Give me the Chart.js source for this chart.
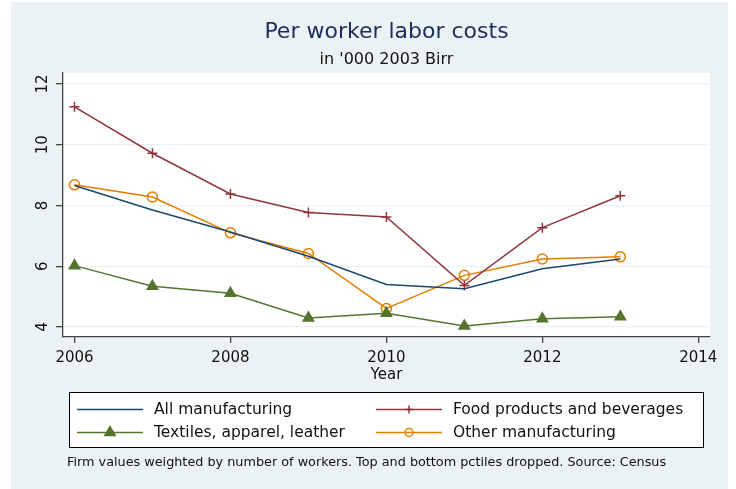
<!DOCTYPE html>
<html>
<head>
<meta charset="utf-8">
<script src="https://cdn.jsdelivr.net/npm/chart.js@4.4.1/dist/chart.umd.min.js"></script>
<style>
  html, body { margin: 0; padding: 0; background: #ffffff; }
  #wrap { width: 736px; height: 489px; }
</style>
</head>
<body>
<div id="wrap"><canvas id="laborChart" width="736" height="489"></canvas></div>
<script>
// values, '000 2003 Birr
const years = [2006, 2007, 2008, 2009, 2010, 2011, 2012, 2013];
const allManufacturing = [8.66, 7.85, 7.13, 6.33, 5.40, 5.26, 5.92, 6.24];
const foodBeverages = [11.25, 9.72, 8.38, 7.77, 7.62, 5.37, 7.27, 8.32];
const textiles = [6.02, 5.34, 5.11, 4.30, 4.45, 4.03, 4.27, 4.34];
const otherManufacturing = [8.68, 8.28, 7.10, 6.42, 4.61, 5.70, 6.24, 6.31];

const xTicks = [2006, 2008, 2010, 2012, 2014];
const yTicks = [4, 6, 8, 10, 12];

const FONT = "'DejaVu Sans', sans-serif";
const BG = '#eaf2f3';

function pts(vals) {
    return years.map((yr, i) => ({ x: yr, y: vals[i] }));
}

const seriesStyle = [
    { label: 'All manufacturing', data: pts(allManufacturing), color: '#1a476f', pointStyle: 'circle', radius: 0, fill: false },
    { label: 'Food products and beverages', data: pts(foodBeverages), color: '#90353b', pointStyle: 'cross', radius: 5, fill: false },
    { label: 'Textiles, apparel, leather', data: pts(textiles), color: '#55752f', pointStyle: 'triangle', radius: 6, fill: true },
    { label: 'Other manufacturing', data: pts(otherManufacturing), color: '#e37e00', pointStyle: 'circle', radius: 5, fill: false }
];

// Stata-ish frame: background, title, rotated y labels, boxed legend, note
const stataFrame = {
    id: 'stataFrame',
    beforeDraw(chart) {
        const c = chart.ctx;
        const a = chart.chartArea;
        c.save();
        c.fillStyle = BG;
        c.fillRect(11, 2, 717, 487);
        c.fillStyle = '#ffffff';
        c.fillRect(a.left, a.top, a.right - a.left, a.bottom - a.top);
        c.restore();
    },
    afterDraw(chart) {
        const c = chart.ctx;
        const a = chart.chartArea;
        const mid = (a.left + a.right) / 2;
        c.save();
        c.textAlign = 'center';
        c.textBaseline = 'middle';

        c.fillStyle = '#1e2e5c';
        c.font = '22px ' + FONT;
        c.fillText('Per worker labor costs', mid, 32);
        c.fillStyle = '#111111';
        c.font = '16px ' + FONT;
        c.fillText("in '000 2003 Birr", mid, 60);

        // y tick labels, vertical like Stata
        const ys = chart.scales.y;
        c.font = '15px ' + FONT;
        ys.ticks.forEach(t => {
            const py = ys.getPixelForValue(t.value);
            c.save();
            c.translate(43, py);
            c.rotate(-Math.PI / 2);
            c.fillText(String(t.value), 0, 0);
            c.restore();
        });

        c.font = '15px ' + FONT;
        c.fillText('Year', mid, 375);

        // legend box
        const bx = 69.5, by = 392.5, bw = 634, bh = 55;
        c.fillStyle = '#ffffff';
        c.fillRect(bx, by, bw, bh);
        c.strokeStyle = '#000000';
        c.lineWidth = 1;
        c.strokeRect(bx, by, bw, bh);

        const cols = [77, 376];
        const rows = [409.5, 432.5];
        c.textAlign = 'left';
        c.font = '15.5px ' + FONT;
        seriesStyle.forEach((s, i) => {
            const x0 = cols[i % 2], y0 = rows[Math.floor(i / 2)];
            c.strokeStyle = s.color;
            c.lineWidth = 1.5;
            c.beginPath();
            c.moveTo(x0, y0);
            c.lineTo(x0 + 66, y0);
            c.stroke();
            if (s.radius > 0) {
                c.fillStyle = s.fill ? s.color : 'rgba(0,0,0,0)';
                Chart.helpers.drawPoint(c, {
                    pointStyle: s.pointStyle,
                    radius: s.pointStyle === 'triangle' ? 6 : 4,
                    borderWidth: 1.5
                }, x0 + 33, y0);
            }
            c.fillStyle = '#111111';
            c.fillText(s.label, x0 + 77, y0);
        });

        c.font = '12.8px ' + FONT;
        c.fillStyle = '#111111';
        c.fillText('Firm values weighted by number of workers. Top and bottom pctiles dropped. Source: Census', 67, 463);
        c.restore();
    }
};

const chart = new Chart(document.getElementById('laborChart'), {
    type: 'line',
    data: {
        datasets: seriesStyle.map(s => ({
            label: s.label,
            data: s.data,
            borderColor: s.color,
            backgroundColor: s.fill ? s.color : 'rgba(0,0,0,0)',
            borderWidth: 1.5,
            pointStyle: s.pointStyle,
            pointRadius: s.radius,
            pointBorderColor: s.color,
            pointBorderWidth: 1.5,
            pointBackgroundColor: s.fill ? s.color : 'rgba(0,0,0,0)',
            tension: 0,
            fill: false
        }))
    },
    options: {
        responsive: false,
        animation: false,
        devicePixelRatio: 1,
        layout: { padding: { left: 0, top: 73, right: 26, bottom: 112 } },
        plugins: {
            legend: { display: false },
            title: { display: false },
            tooltip: { enabled: false }
        },
        scales: {
            x: {
                type: 'linear',
                min: 2005.853,
                max: 2014.15,
                afterBuildTicks: scale => { scale.ticks = xTicks.map(v => ({ value: v })); },
                afterFit: scale => { scale.height = 40; },
                border: { color: '#444444', width: 1.3 },
                grid: { drawOnChartArea: false, tickColor: '#444444', tickLength: 6, lineWidth: 1.3 },
                ticks: {
                    color: '#111111',
                    padding: 6,
                    maxRotation: 0,
                    font: { family: FONT, size: 15 },
                    callback: v => String(v)
                }
            },
            y: {
                type: 'linear',
                min: 3.671,
                max: 12.362,
                afterBuildTicks: scale => { scale.ticks = yTicks.map(v => ({ value: v })); },
                afterFit: scale => { scale.width = 63; },
                border: { color: '#444444', width: 1.3 },
                grid: { color: BG, lineWidth: 1.3, tickColor: '#444444', tickLength: 7 },
                ticks: { display: false }
            }
        }
    },
    plugins: [stataFrame]
});
</script>
</body>
</html>
